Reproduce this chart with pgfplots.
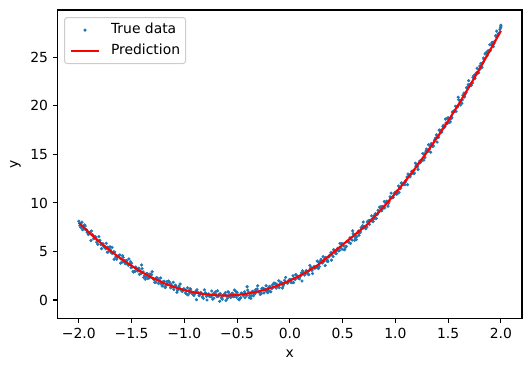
\documentclass[border=0pt]{standalone}
\usepackage{pgfplots}
\pgfplotsset{compat=1.18}
\usepackage{fontspec}
\setmainfont{DejaVu Sans}
\definecolor{tabblue}{RGB}{31,119,180}
\pgfplotstableread{
x y
-2.00 8.12
-1.99 7.66
-1.98 7.47
-1.97 8.02
-1.96 7.62
-1.95 7.31
-1.94 7.62
-1.93 7.26
-1.92 6.97
-1.91 6.74
-1.90 6.90
-1.89 7.03
-1.88 7.10
-1.87 6.73
-1.86 6.32
-1.85 6.38
-1.84 6.43
-1.83 5.96
-1.82 5.74
-1.81 6.53
-1.80 6.15
-1.79 5.70
-1.78 5.79
-1.77 5.79
-1.76 5.46
-1.75 5.47
-1.74 5.85
-1.73 4.93
-1.72 4.96
-1.71 5.38
-1.70 5.14
-1.69 4.86
-1.68 4.83
-1.67 4.96
-1.66 4.95
-1.65 4.43
-1.64 4.21
-1.63 4.51
-1.62 4.55
-1.61 4.65
-1.60 4.23
-1.59 3.91
-1.58 4.40
-1.57 3.94
-1.56 3.74
-1.55 4.06
-1.54 3.70
-1.53 3.58
-1.52 3.70
-1.51 3.95
-1.50 3.78
-1.49 3.42
-1.48 2.88
-1.47 2.96
-1.46 3.40
-1.45 3.23
-1.44 2.98
-1.43 3.28
-1.42 3.00
-1.41 2.73
-1.40 3.23
-1.39 2.90
-1.38 2.48
-1.37 2.14
-1.36 2.71
-1.35 2.71
-1.34 2.33
-1.33 2.30
-1.32 2.58
-1.31 2.62
-1.30 2.23
-1.29 2.16
-1.28 1.82
-1.27 1.83
-1.26 2.30
-1.25 2.18
-1.24 2.02
-1.23 1.94
-1.22 1.65
-1.21 1.44
-1.20 1.90
-1.19 1.93
-1.18 1.29
-1.17 1.54
-1.16 1.59
-1.15 1.95
-1.14 1.83
-1.13 1.27
-1.12 1.35
-1.11 1.36
-1.10 1.08
-1.09 1.43
-1.08 1.45
-1.07 0.79
-1.06 1.07
-1.05 1.43
-1.04 1.65
-1.03 1.02
-1.02 0.89
-1.01 1.09
-1.00 1.12
-0.99 0.74
-0.98 0.63
-0.97 1.26
-0.96 0.94
-0.95 0.71
-0.94 1.10
-0.93 0.82
-0.92 0.61
-0.91 0.46
-0.90 0.70
-0.89 0.91
-0.88 1.06
-0.87 0.77
-0.86 0.44
-0.85 0.58
-0.84 0.71
-0.83 0.32
-0.82 0.18
-0.81 1.05
-0.80 0.75
-0.79 0.38
-0.78 0.55
-0.77 0.63
-0.76 0.38
-0.75 0.47
-0.74 0.93
-0.73 0.09
-0.72 0.20
-0.71 0.70
-0.70 0.54
-0.69 0.34
-0.68 0.39
-0.67 0.60
-0.66 0.67
-0.65 0.23
-0.64 0.09
-0.63 0.47
-0.62 0.59
-0.61 0.77
-0.60 0.43
-0.59 0.19
-0.58 0.76
-0.57 0.38
-0.56 0.26
-0.55 0.66
-0.54 0.38
-0.53 0.34
-0.52 0.54
-0.51 0.87
-0.50 0.78
-0.49 0.50
-0.48 0.04
-0.47 0.20
-0.46 0.72
-0.45 0.63
-0.44 0.46
-0.43 0.85
-0.42 0.64
-0.41 0.45
-0.40 1.03
-0.39 0.78
-0.38 0.44
-0.37 0.18
-0.36 0.83
-0.35 0.91
-0.34 0.61
-0.33 0.66
-0.32 1.02
-0.31 1.14
-0.30 0.83
-0.29 0.84
-0.28 0.58
-0.27 0.67
-0.26 1.22
-0.25 1.18
-0.24 1.10
-0.23 1.10
-0.22 0.89
-0.21 0.76
-0.20 1.30
-0.19 1.41
-0.18 0.85
-0.17 1.18
-0.16 1.31
-0.15 1.75
-0.14 1.71
-0.13 1.23
-0.12 1.39
-0.11 1.48
-0.10 1.28
-0.09 1.71
-0.08 1.81
-0.07 1.23
-0.06 1.59
-0.05 2.03
-0.04 2.33
-0.03 1.78
-0.02 1.73
-0.01 2.01
0.00 2.12
0.01 1.82
0.02 1.79
0.03 2.50
0.04 2.26
0.05 2.11
0.06 2.58
0.07 2.37
0.08 2.25
0.09 2.18
0.10 2.50
0.11 2.79
0.12 3.02
0.13 2.81
0.14 2.56
0.15 2.78
0.16 2.99
0.17 2.68
0.18 2.62
0.19 3.57
0.20 3.35
0.21 3.06
0.22 3.31
0.23 3.47
0.24 3.30
0.25 3.47
0.26 4.01
0.27 3.25
0.28 3.44
0.29 4.02
0.30 3.94
0.31 3.82
0.32 3.95
0.33 4.24
0.34 4.39
0.35 4.03
0.36 3.97
0.37 4.43
0.38 4.63
0.39 4.89
0.40 4.63
0.41 4.47
0.42 5.12
0.43 4.82
0.44 4.78
0.45 5.26
0.46 5.06
0.47 5.10
0.48 5.38
0.49 5.79
0.50 5.78
0.51 5.58
0.52 5.20
0.53 5.44
0.54 6.04
0.55 6.03
0.56 5.94
0.57 6.40
0.58 6.28
0.59 6.17
0.60 6.83
0.61 6.66
0.62 6.40
0.63 6.22
0.64 6.95
0.65 7.11
0.66 6.89
0.67 7.02
0.68 7.46
0.69 7.66
0.70 7.43
0.71 7.52
0.72 7.34
0.73 7.51
0.74 8.14
0.75 8.18
0.76 8.18
0.77 8.26
0.78 8.13
0.79 8.08
0.80 8.70
0.81 8.89
0.82 8.41
0.83 8.82
0.84 9.03
0.85 9.55
0.86 9.59
0.87 9.19
0.88 9.43
0.89 9.60
0.90 9.48
0.91 9.99
0.92 10.17
0.93 9.67
0.94 10.11
0.95 10.63
0.96 11.01
0.97 10.54
0.98 10.57
0.99 10.93
1.00 11.12
1.01 10.90
1.02 10.95
1.03 11.74
1.04 11.58
1.05 11.51
1.06 12.06
1.07 11.93
1.08 11.89
1.09 11.90
1.10 12.30
1.11 12.67
1.12 12.98
1.13 12.85
1.14 12.68
1.15 12.98
1.16 13.27
1.17 13.04
1.18 13.06
1.19 14.09
1.20 13.95
1.21 13.74
1.22 14.07
1.23 14.31
1.24 14.22
1.25 14.47
1.26 15.09
1.27 14.41
1.28 14.68
1.29 15.34
1.30 15.34
1.31 15.30
1.32 15.51
1.33 15.88
1.34 16.11
1.35 15.83
1.36 15.85
1.37 16.39
1.38 16.67
1.39 17.01
1.40 16.83
1.41 16.75
1.42 17.48
1.43 17.26
1.44 17.30
1.45 17.86
1.46 17.74
1.47 17.86
1.48 18.22
1.49 18.71
1.50 18.78
1.51 18.66
1.52 18.36
1.53 18.68
1.54 19.36
1.55 19.43
1.56 19.42
1.57 19.96
1.58 19.92
1.59 19.89
1.60 20.63
1.61 20.54
1.62 20.36
1.63 20.26
1.64 21.07
1.65 21.31
1.66 21.17
1.67 21.38
1.68 21.90
1.69 22.18
1.70 22.03
1.71 22.20
1.72 22.10
1.73 22.35
1.74 23.06
1.75 23.18
1.76 23.26
1.77 23.42
1.78 23.37
1.79 23.40
1.80 24.10
1.81 24.37
1.82 23.97
1.83 24.46
1.84 24.75
1.85 25.35
1.86 25.47
1.87 25.15
1.88 25.47
1.89 25.72
1.90 25.68
1.91 26.27
1.92 26.53
1.93 26.11
1.94 26.63
1.95 27.23
1.96 27.69
1.97 27.30
1.98 27.41
1.99 27.85
2.00 28.12
2.00 28.30
-1.985 7.87
-1.965 7.24
-1.945 7.73
-1.925 7.18
-1.905 6.87
-1.885 6.12
-1.865 6.63
-1.845 6.54
-1.825 6.16
-1.805 6.11
-1.785 5.29
-1.765 5.53
-1.745 5.29
-1.725 5.45
-1.705 5.48
-1.685 5.43
-1.665 4.20
-1.645 4.42
-1.625 4.55
-1.605 3.79
-1.585 4.56
-1.565 4.06
-1.545 4.06
-1.525 4.23
-1.505 3.33
-1.485 2.94
-1.465 2.98
-1.445 3.14
-1.425 2.64
-1.405 3.61
-1.385 2.32
-1.365 2.38
-1.345 2.21
-1.325 2.67
-1.305 2.91
-1.285 2.10
-1.265 2.29
-1.245 1.71
-1.225 2.27
-1.205 1.63
-1.185 1.36
-1.165 1.90
-1.145 1.87
-1.125 1.64
-1.105 1.83
-1.085 1.54
-1.065 0.98
-1.045 1.21
-1.025 1.03
-1.005 1.15
-0.985 0.99
-0.965 0.52
-0.945 1.17
-0.925 0.78
-0.905 0.63
-0.885 0.04
-0.865 0.71
-0.845 0.78
-0.825 0.56
-0.805 0.67
-0.785 0.01
-0.765 0.41
-0.745 0.33
-0.725 0.65
-0.705 0.84
-0.685 0.95
-0.665 -0.13
-0.645 0.26
-0.625 0.55
-0.605 -0.05
-0.585 0.87
-0.565 0.54
-0.545 0.70
-0.525 1.03
-0.505 0.28
-0.485 0.06
-0.465 0.26
-0.445 0.58
-0.425 0.23
-0.405 1.37
-0.385 0.24
-0.365 0.46
-0.345 0.44
-0.325 1.06
-0.305 1.47
-0.285 0.82
-0.265 1.16
-0.245 0.74
-0.225 1.47
-0.205 0.99
-0.185 0.87
-0.165 1.57
-0.145 1.71
-0.125 1.64
-0.105 1.98
-0.085 1.85
-0.065 1.46
-0.045 1.85
-0.025 1.82
-0.005 2.10
0.015 2.11
0.035 1.80
0.055 2.61
0.075 2.38
0.095 2.39
0.115 1.96
0.135 2.79
0.155 3.02
0.175 2.95
0.195 3.23
0.215 2.73
0.235 3.29
0.255 3.36
0.275 3.85
0.295 4.20
0.315 4.47
0.335 3.55
0.355 4.10
0.375 4.55
0.395 4.11
0.415 5.19
0.435 5.02
0.455 5.34
0.475 5.83
0.495 5.24
0.515 5.18
0.535 5.54
0.555 6.02
0.575 5.83
0.595 7.13
0.615 6.16
0.635 6.54
0.655 6.68
0.675 7.46
0.695 8.03
0.715 7.54
0.735 8.04
0.755 7.78
0.775 8.67
0.795 8.35
0.815 8.39
0.835 9.25
0.855 9.55
0.875 9.64
0.895 10.14
0.915 10.17
0.935 9.94
0.955 10.49
0.975 10.62
0.995 11.06
1.015 11.23
1.035 11.08
1.055 12.05
1.075 11.98
1.095 12.15
1.115 11.88
1.135 12.87
1.155 13.26
1.175 13.35
1.195 13.79
1.215 13.45
1.235 14.17
1.255 14.40
1.275 15.05
1.295 15.56
1.315 15.99
1.335 15.23
1.355 15.94
1.375 16.55
1.395 16.27
1.415 17.51
1.435 17.50
1.455 17.98
1.475 18.63
1.495 18.20
1.515 18.30
1.535 18.82
1.555 19.46
1.575 19.43
1.595 20.89
1.615 20.08
1.635 20.62
1.655 20.92
1.675 21.86
1.695 22.59
1.715 22.26
1.735 22.92
1.755 22.82
1.775 23.87
1.795 23.71
1.815 23.91
1.835 24.93
1.855 25.39
1.875 25.64
1.895 26.30
1.915 26.49
1.935 26.42
1.955 27.13
1.975 27.42
1.995 28.02
}\truedata
\pgfplotstableread{
x y
-2.00 7.95
-1.90 6.92
-1.80 5.95
-1.70 5.06
-1.60 4.25
-1.50 3.52
-1.40 2.85
-1.30 2.27
-1.20 1.77
-1.10 1.35
-1.00 1.02
-0.90 0.78
-0.80 0.60
-0.70 0.49
-0.60 0.46
-0.50 0.52
-0.40 0.66
-0.30 0.88
-0.20 1.17
-0.10 1.55
0.00 2.00
0.10 2.53
0.26 3.55
0.73 7.75
0.90 9.73
1.00 10.99
1.10 12.33
1.20 13.74
1.31 15.40
1.40 16.80
1.50 18.45
1.60 20.17
1.70 21.97
1.80 23.84
1.90 25.78
2.00 27.72
}\preddata
\begin{document}
\fontsize{13.9bp}{16bp}\selectfont
\begin{tikzpicture}
\path[use as bounding box] (-57.7bp,-52.7bp) rectangle (473.3bp,318.3bp);
\begin{axis}[
  at={(0,0)}, anchor=south west,
  scale only axis, width=464.3bp, height=308.3bp,
  xmin=-2.2, xmax=2.2, ymin=-1.88, ymax=29.87,
  clip marker paths=true,
  axis line style={line width=1.1bp},
  tick style={line width=1.1bp, black},
  major tick length=4.9bp,
  tick align=outside,
  xtick pos=bottom, ytick pos=left,
  xtick={-2,-1.5,-1,-0.5,0,0.5,1,1.5,2},
  xticklabels={−2.0,−1.5,−1.0,−0.5,0.0,0.5,1.0,1.5,2.0},
  ytick={0,5,10,15,20,25},
  /pgf/number format/assume math mode=true,
  ticklabel style={font=\fontsize{13.9bp}{16bp}\selectfont},
  label style={font=\fontsize{13.9bp}{16bp}\selectfont},
  xlabel={x}, ylabel={y},
  xlabel style={yshift=-2bp},
  legend style={at={(0.0136,0.977)}, anchor=north west,
    draw=black!20, line width=1bp, rounded corners=2.8bp,
    fill=white, fill opacity=0.8, text opacity=1,
    font=\fontsize{13.9bp}{16bp}\selectfont,
    inner xsep=5.6bp, inner ysep=5.6bp, row sep=7bp, column sep=11bp,
    nodes={inner sep=0pt, text height=10.4bp, text depth=3.5bp}},
  legend cell align=left,
]
\addplot[only marks, mark=*, mark size=1.4bp, color=tabblue, mark options={draw=none, fill=tabblue},
  legend image code/.code={\path[draw=none, fill=none] (0,0) rectangle (27.8bp,0.1bp); \fill[tabblue] (13.9bp,0) circle (1bp);}]
  table[x=x,y=y] {\truedata};
\addlegendentry{True data}
\addplot[red, line width=2.1bp, no marks,
  legend image code/.code={\draw[red, line width=2.1bp] (0,0) -- (27.8bp,0);}]
  table[x=x,y=y] {\preddata};
\addlegendentry{Prediction}
\end{axis}
\end{tikzpicture}
\end{document}
